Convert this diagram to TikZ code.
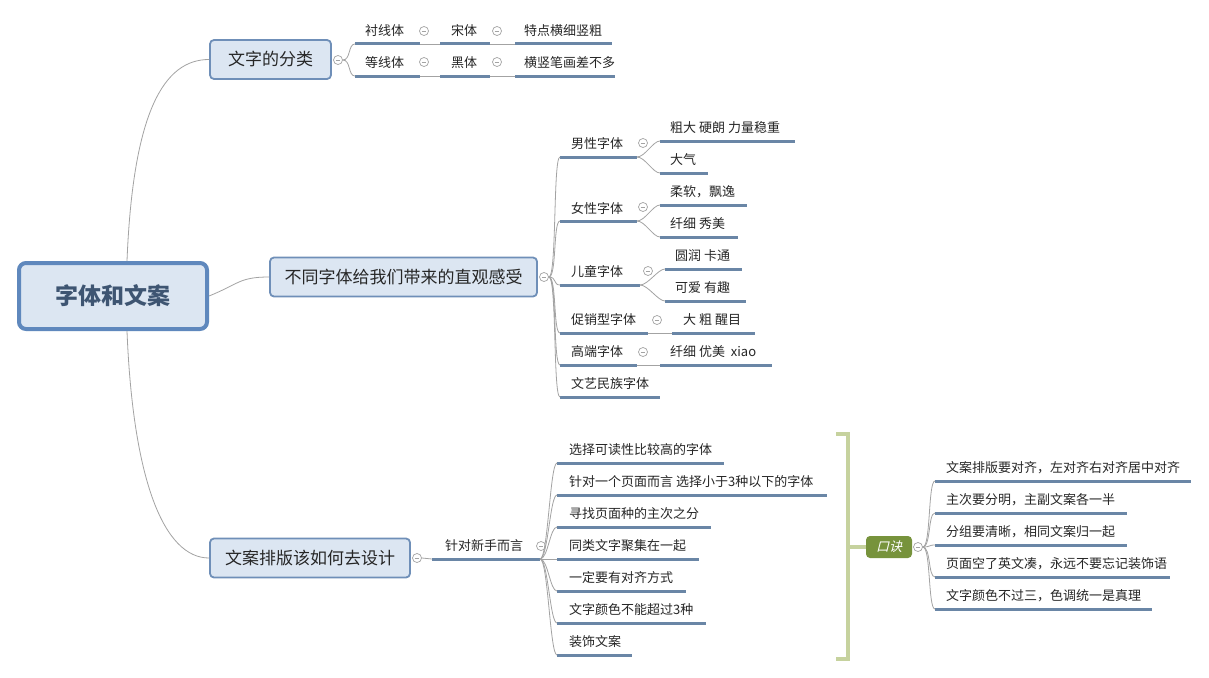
\documentclass[tikz,border=0pt]{standalone}
\usepackage{fontspec}
\setmainfont{Noto Sans CJK SC}
\newfontfamily\cjkslant{Noto Sans CJK SC}[FakeSlant=0.25]
\usetikzlibrary{calc}
\definecolor{boxfill}{HTML}{DCE6F2}
\definecolor{boxline}{HTML}{6F8FB8}
\definecolor{rootline}{HTML}{5F88BD}
\definecolor{roottext}{HTML}{3E5572}
\definecolor{ulcol}{HTML}{6A86A6}
\definecolor{conncol}{HTML}{A3A3A3}
\definecolor{olive}{HTML}{77933C}
\definecolor{olivelight}{HTML}{C6D29E}
\definecolor{txt}{HTML}{262626}
\tikzset{
  rootbox/.style={draw=rootline, line width=4pt, fill=boxfill, rounded corners=7pt,
    minimum width=188pt, minimum height=66pt, inner sep=0pt, text=roottext,
    font=\fontsize{23}{26}\selectfont\bfseries},
  topicbox/.style={draw=boxline, line width=1.8pt, fill=boxfill, rounded corners=4pt,
    minimum height=39pt, inner sep=0pt, text=txt, font=\fontsize{17}{20}\selectfont},
  kbox/.style={fill=olive, rounded corners=4pt, minimum width=46pt, minimum height=22pt,
    inner sep=0pt, text=white, font=\fontsize{13}{15}\selectfont\cjkslant},
  lbl/.style={anchor=west, inner sep=0pt, text=txt, font=\fontsize{13}{15}\selectfont},
  uline/.style={draw=ulcol, line width=3pt},
  conn/.style={draw=conncol, line width=0.8pt},
  minus/.style={circle, draw=conncol, line width=0.7pt, minimum size=9pt, inner sep=0pt,
    path picture={\draw[conncol, line width=0.7pt] ([xshift=-2.3pt]path picture bounding box.center) -- ([xshift=2.3pt]path picture bounding box.center);}},
  bracket/.style={draw=olivelight, line width=3.5pt}
}
% #1 name, #2 x-left, #3 x-right, #4 underline y, #5 text x, #6 text
\newcommand\leaf[6]{%
  \coordinate (#1l) at (#2,#4);
  \coordinate (#1r) at (#3,#4);
  \draw[uline] (#1l) -- (#1r);
  \node[lbl] (#1) at (#5,#4-13) {#6};
}
\newcommand\brk[2]{\draw[conn] (#1) .. controls +(8,0) and +(-7,0) .. (#2);}
\begin{document}
\begin{tikzpicture}[x=1pt,y=-1pt]
\useasboundingbox (0,0) rectangle (1209,677);
\fill[white] (0,0) rectangle (1209,677);

% root and topics
\node[rootbox] (root) at (113,296) {字体和文案};
\node[topicbox, minimum width=121pt] (cls) at (270.5,59.5) {文字的分类};
\node[topicbox, minimum width=267pt] (feel) at (403.5,277) {不同字体给我们带来的直观感受};
\node[topicbox, minimum width=200pt] (lay) at (310,558) {文案排版该如何去设计};

\draw[conn] ([xshift=14pt]root.north) .. controls +(6,-150) and +(-45,0) .. (cls.west);
\draw[conn] (root.east) .. controls +(30,-12) and +(-30,0) .. (feel.west);
\draw[conn] ([xshift=14pt]root.south) .. controls +(6,150) and +(-45,0) .. (lay.west);

% ---- group 1
\node[minus] (m1) at (338,60) {};
\leaf{a1}{355}{420}{44}{365}{衬线体}
\node[minus] (a1m) at (424,31) {};
\leaf{a2}{440}{490}{44}{451}{宋体}
\node[minus] (a2m) at (497,31) {};
\leaf{a3}{515}{612}{44}{524}{特点横细竖粗}
\leaf{b1}{355}{420}{76}{365}{等线体}
\node[minus] (b1m) at (424,62) {};
\leaf{b2}{440}{490}{76}{451}{黑体}
\node[minus] (b2m) at (497,62) {};
\leaf{b3}{515}{615}{76}{524}{横竖笔画差不多}
\draw[conn] (a1r) -- (a2l); \draw[conn] (a2r) -- (a3l);
\draw[conn] (b1r) -- (b2l); \draw[conn] (b2r) -- (b3l);
\brk{m1.east}{a1l}
\brk{m1.east}{b1l}

% ---- group 2
\node[minus] (m2) at (544,277) {};
\leaf{g1}{560}{637}{157}{571}{男性字体}
\node[minus] (g1m) at (643,143) {};
\leaf{g1a}{660}{795}{141}{670}{粗大 硬朗 力量稳重}
\leaf{g1b}{660}{708}{173}{670}{大气}
\leaf{g2}{560}{637}{221}{571}{女性字体}
\node[minus] (g2m) at (643,207) {};
\leaf{g2a}{660}{747}{205}{670}{柔软，飘逸}
\leaf{g2b}{660}{738}{237}{670}{纤细 秀美}
\leaf{g3}{560}{640}{285}{571}{儿童字体}
\node[minus] (g3m) at (648,271) {};
\leaf{g3a}{665}{742}{269}{675}{圆润 卡通}
\leaf{g3b}{665}{746}{301}{675}{可爱 有趣}
\leaf{g4}{560}{648}{333}{571}{促销型字体}
\node[minus] (g4m) at (657,320) {};
\leaf{g4a}{672}{755}{333}{683}{大 粗 醒目}
\leaf{g5}{560}{637}{365}{571}{高端字体}
\node[minus] (g5m) at (643,352) {};
\leaf{g5a}{660}{772}{365}{670}{纤细 优美 \ xiao}
\leaf{g6}{560}{660}{397}{571}{文艺民族字体}
\foreach \c in {g1,g2,g3,g4,g5,g6} {\brk{m2.east}{\c l}}
\brk{g1r}{g1al} \brk{g1r}{g1bl}
\brk{g2r}{g2al} \brk{g2r}{g2bl}
\brk{g3r}{g3al} \brk{g3r}{g3bl}
\draw[conn] (g4r) -- (g4al);
\draw[conn] (g5r) -- (g5al);

% ---- group 3
\node[minus] (m3) at (417,558) {};
\leaf{h0}{432}{540}{559}{445}{针对新手而言}
\node[minus] (h0m) at (541,546) {};
\draw[conn] (m3.east) -- (h0l);
\leaf{h1}{557}{724}{463}{569}{选择可读性比较高的字体}
\leaf{h2}{557}{827}{495}{569}{针对一个页面而言 选择小于3种以下的字体}
\leaf{h3}{557}{711}{527}{569}{寻找页面种的主次之分}
\leaf{h4}{557}{699}{559}{569}{同类文字聚集在一起}
\leaf{h5}{557}{686}{591}{569}{一定要有对齐方式}
\leaf{h6}{557}{706}{623}{569}{文字颜色不能超过3种}
\leaf{h7}{557}{632}{655}{569}{装饰文案}
\foreach \c in {h1,h2,h3,h5,h6,h7} {\brk{h0r}{\c l}}
\draw[conn] (h0r) -- (h4l);

% ---- summary bracket
\draw[bracket] (836,434) -- (848,434) -- (848,659) -- (836,659);
\coordinate (bm) at (848,547);
\node[kbox] (k) at (889,547) {口诀};
\draw[bracket] (bm) -- (k.west);
\node[minus] (km) at (918,547) {};
\leaf{k1}{935}{1191}{481}{946}{文案排版要对齐，左对齐右对齐居中对齐}
\leaf{k2}{935}{1127}{513}{946}{主次要分明，主副文案各一半}
\leaf{k3}{935}{1127}{545}{946}{分组要清晰，相同文案归一起}
\leaf{k4}{935}{1170}{577}{946}{页面空了英文凑，永远不要忘记装饰语}
\leaf{k5}{935}{1152}{609}{946}{文字颜色不过三，色调统一是真理}
\foreach \c in {k1,k2,k3,k4,k5} {\brk{km.east}{\c l}}
\end{tikzpicture}
\end{document}
